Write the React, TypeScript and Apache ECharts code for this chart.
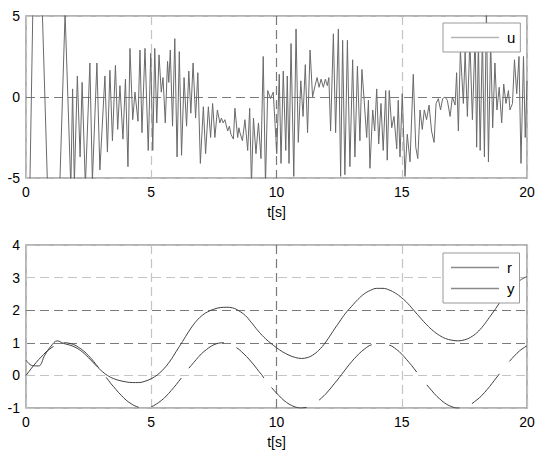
import React, { useEffect, useRef } from 'react';
import * as echarts from 'echarts';

const FONT = '"Liberation Sans", Arial, Helvetica, sans-serif';

const xTicks = [0, 5, 10, 15, 20];
const xLabel = 't[s]';

// control signal u: vertices (time, value)
const uTime = [
  0, 0.41, 1.10, 1.56, 1.79,
  1.86, 1.93, 2.05, 2.16, 2.24, 2.37, 2.55, 2.65, 2.83, 2.95,
  3.15, 3.25, 3.35, 3.45, 3.57, 3.66, 3.75, 3.87, 3.97, 4.07,
  4.15, 4.26, 4.35, 4.47, 4.55, 4.63,
  4.75, 4.88, 4.98, 5.06, 5.14, 5.22, 5.31, 5.40, 5.47, 5.56,
  5.65, 5.70, 5.76, 5.85, 5.94, 6.03, 6.12, 6.21, 6.31, 6.41,
  6.50, 6.58, 6.67, 6.77, 6.86, 6.96, 7.08, 7.17, 7.28, 7.37,
  7.45, 7.54, 7.64, 7.74, 7.80, 7.87, 7.94, 8.05, 8.12, 8.18,
  8.28, 8.34, 8.45, 8.50, 8.54, 8.64, 8.74, 8.85, 8.93, 9.00,
  9.08, 9.18, 9.28, 9.38, 9.47, 9.56, 9.65, 9.76, 9.87,
  10.01, 10.11, 10.18, 10.27, 10.37, 10.43, 10.50, 10.58, 10.69, 10.78,
  10.87, 10.97, 11.06, 11.15, 11.24, 11.34, 11.44, 11.54, 11.62, 11.70,
  11.78, 11.87, 11.95, 12.03, 12.09, 12.16, 12.27, 12.36, 12.47, 12.56,
  12.64, 12.73, 12.83, 12.93, 13.04, 13.13, 13.23, 13.33, 13.41, 13.49,
  13.60, 13.67, 13.73, 13.84, 13.92, 14.00, 14.08, 14.17, 14.26, 14.36,
  14.42, 14.50, 14.60, 14.69, 14.80,
  14.86, 14.93, 15.02, 15.13, 15.22, 15.33, 15.46, 15.56, 15.64, 15.73,
  15.82, 15.90, 15.99, 16.09, 16.19, 16.29, 16.37, 16.46, 16.55, 16.63,
  16.73, 16.82, 16.93, 17.02, 17.13, 17.19, 17.26, 17.34, 17.46, 17.53,
  17.62, 17.72, 17.82, 17.93, 17.99, 18.06, 18.13, 18.22, 18.30, 18.38,
  18.46, 18.55, 18.63, 18.72, 18.80, 18.89, 18.99, 19.07, 19.16, 19.26,
  19.32, 19.42, 19.50, 19.59, 19.68, 19.76, 19.86, 19.93, 20.0,
];
const uValue = [
  -19.5, 17.8, -18, 5.2, -5.6,
  0.5, -5.3, 1.3, -3.7, 0.9, -5.5, 2.1, -5.2, 2.1, -4.5,
  1.3, -3.4, 1.65, -2.7, 1.95, -2.0, 0.7, -2.6, 1.1, -4.3,
  3.0, -1.4, 0.3, -1.5, 2.9, -2.2,
  3.0, -3.3, 2.7, -3.3, 3.0, -1.6, 2.6, 0.3, 1.2, -1.6,
  2.2, 0.9, 2.9, -1.8, 3.6, -3.7, 2.8, -3.6, 1.2, -1.8,
  1.6, -1.0, 2.1, -1.3, 1.5, -4.1, -0.6, -3.5, -0.6, -2.5,
  -0.4, -2.5, -0.8, -1.6, -1.3, -1.6, -1.4, -2.1, -1.8, -2.3,
  -2.6, -0.7, -2.5, -1.9, -2.2, -2.7, -1.4, -3.3, -0.7, -5.4,
  -1.3, -3.5, -1.6, -3.8, 2.5, -5.4, 0.4, -0.1, 0.3,
  -3.5, 1.4, -4.1, 1.6, -3.3, 1.3, -4.1, 3.3, -4.9, 4.2,
  -2.8, 1.0, -1.2, 2.0, -2.2, 2.9, 0.0, 0.7, 1.2, 0.6,
  1.1, 0.6, 1.1, 0.7, 1.2, -2.1, 3.9, -2.2, 4.2, -4.9,
  3.5, -4.8, 3.5, -4.3, 2.3, -3.7, 1.9, -2.7, 1.7, 0.0,
  -2.5, -0.2, -4.4, -0.8, -2.1, 0.5, -2.9, -0.4, -3.3, 0.4,
  -3.9, 0.4, -1.9, -1.2, -3.2,
  -0.2, -3.7, 0.2, -4.9, -2.3, -4.0, 1.4, -3.1, -3.8, -0.8,
  -2.0, -0.8, -1.4, -0.5, -2.1, -2.8, -0.4, -0.1, -0.8, -0.1,
  0.0, -0.2, -1.2, 0.0, -0.5, 1.5, -2.1, 2.9, -0.4, 2.8,
  -1.2, 3.5, -1.4, 3.8, -3.1, 3.5, -3.3, 3.8, -3.7, 5.5,
  -4.0, 3.5, -1.9, 2.1, -0.8, 0.6, -1.6, 0.8, -0.4, 0.4,
  -0.8, -0.4, 2.3, 0.2, 2.5, -4.1, 2.5, -2.5, 1.0,
];

// reference r, sampled every 0.1 s (null where the drawn line is broken)
const R_STEP = 0.1;
const rValue = [
  0.00, 0.10, 0.20, 0.30, 0.39, 0.48, 0.56, 0.64, 0.72, 0.78,
  0.84, 0.89, null, null, null, 1.00, 1.00, 0.99, 0.97, 0.95,
  0.91, 0.86, 0.81, 0.75, 0.68, 0.60, 0.52, 0.43, 0.33, 0.24,
  null, null, -0.06, -0.16, -0.26, -0.35, -0.44, -0.53, -0.61, -0.69,
  -0.76, -0.82, -0.87, -0.92, -0.95, -0.98, null, null, null, null,
  -0.96, -0.93, -0.88, -0.83, -0.77, -0.71, -0.63, -0.55, -0.46, -0.37,
  -0.28, -0.18, -0.08, null, null, 0.22, 0.31, 0.40, 0.49, 0.58,
  0.66, 0.73, 0.79, 0.85, 0.90, 0.94, 0.97, 0.99, 1.00, 1.00,
  null, null, null, null, 0.85, 0.80, 0.73, 0.66, 0.58, 0.50,
  0.41, 0.32, 0.22, 0.12, 0.03, -0.08, null, null, -0.37, -0.46,
  -0.54, -0.62, -0.70, -0.77, -0.83, -0.88, -0.92, -0.96, -0.98, -1.00,
  -1.00, -0.99, -0.98, null, null, null, null, -0.76, -0.69, -0.62,
  -0.54, -0.45, -0.36, -0.26, -0.17, -0.07, 0.03, 0.13, 0.23, 0.33,
  0.42, 0.51, 0.59, 0.67, 0.74, 0.80, 0.86, 0.91, 0.94, null,
  null, null, null, null, null, 0.93, 0.90, 0.85, 0.79, 0.73,
  0.65, 0.57, 0.48, 0.39, 0.30, 0.20, 0.10, null, null, null,
  -0.29, -0.38, -0.47, -0.56, -0.64, -0.71, -0.78, -0.84, -0.89, -0.93,
  -0.96, -0.99, -1.00, -1.00, null, null, null, null, -0.87, -0.81,
  -0.75, -0.69, -0.61, -0.53, -0.44, -0.35, -0.25, -0.15, -0.05, 0.05,
  null, null, null, 0.43, 0.52, 0.60, 0.68, 0.75, 0.81, 0.86,
  0.91,
];

// output y, sampled every 0.25 s
const Y_STEP = 0.25;
const yValue = [
  0.47, 0.30, 0.29, 0.62, 0.90, 1.06, 0.98, 0.93, 0.85, 0.72,
  0.54, 0.34, 0.15, 0.00, -0.10, -0.16, -0.20, -0.22, -0.22, -0.18,
  -0.10, 0.02, 0.20, 0.44, 0.74, 1.04, 1.35, 1.62, 1.82, 1.95,
  2.03, 2.08, 2.09, 2.07, 1.98, 1.84, 1.62, 1.38, 1.17, 1.00,
  0.85, 0.72, 0.62, 0.55, 0.52, 0.55, 0.65, 0.82, 1.06, 1.35,
  1.63, 1.90, 2.12, 2.33, 2.50, 2.61, 2.67, 2.67, 2.62, 2.52,
  2.38, 2.20, 1.98, 1.76, 1.55, 1.37, 1.23, 1.13, 1.08, 1.06,
  1.09, 1.17, 1.31, 1.52, 1.78, 2.05, 2.33, 2.55, 2.74, 2.93,
  3.03,
];

const LIGHT = '#c4c4c4';
const DARK = '#7a7a7a';

export default function App() {
  const ref = useRef<HTMLDivElement>(null);

  useEffect(() => {
    if (!ref.current) return;
    const chart = echarts.init(ref.current, null, { renderer: 'svg' });

    const uData = uTime.map((t, i) => [t, uValue[i]]);
    const rData = rValue.map((v, i) => [Number((i * R_STEP).toFixed(2)), v === null ? '-' : v]);
    const yData = yValue.map((v, i) => [Number((i * Y_STEP).toFixed(2)), v]);

    const labelStyle = { color: '#000', fontSize: 14, fontFamily: FONT };

    const xAxisBase = (gridIndex: number) => ({
      type: 'value',
      gridIndex,
      min: xTicks[0],
      max: xTicks[xTicks.length - 1],
      interval: 5,
      axisLine: { show: false },
      axisTick: { show: false },
      axisLabel: { ...labelStyle, margin: 7 },
      name: xLabel,
      nameLocation: 'middle',
      nameGap: 27,
      nameTextStyle: { ...labelStyle },
      splitLine: {
        show: true,
        lineStyle: { type: [9, 5], width: 1.2, color: [LIGHT, LIGHT, DARK, LIGHT, LIGHT] },
      },
    });

    const legendBase = {
      left: 443, orient: 'vertical',
      padding: [6, 5, 6, 8],
      icon: 'rect',
      itemWidth: 48, itemHeight: 1.5,
      backgroundColor: '#fff', borderColor: '#999', borderWidth: 1,
      textStyle: { ...labelStyle, fontSize: 15, lineHeight: 17, padding: [0, 0, 0, 3] },
      selectedMode: false,
    };

    const option: any = {
      animation: false,
      backgroundColor: '#fff',
      textStyle: { fontFamily: FONT },
      grid: [
        { left: 26, top: 16, width: 501, height: 162, show: true, borderColor: '#9a9a9a', borderWidth: 1.5, backgroundColor: 'transparent' },
        { left: 26, top: 245, width: 501, height: 163, show: true, borderColor: '#9a9a9a', borderWidth: 1.5, backgroundColor: 'transparent' },
      ],
      xAxis: [xAxisBase(0), xAxisBase(1)],
      yAxis: [
        {
          type: 'value', gridIndex: 0, min: -5, max: 5, interval: 5,
          axisLine: { show: false }, axisTick: { show: false },
          axisLabel: { ...labelStyle, margin: 6 },
          splitLine: { show: true, lineStyle: { type: [9, 5], width: 1.2, color: [LIGHT, DARK, LIGHT] } },
        },
        {
          type: 'value', gridIndex: 1, min: -1, max: 4, interval: 1,
          axisLine: { show: false }, axisTick: { show: false },
          axisLabel: { ...labelStyle, margin: 6 },
          splitLine: { show: true, lineStyle: { type: [9, 5], width: 1.2, color: [LIGHT, LIGHT, DARK, DARK, LIGHT, LIGHT] } },
        },
      ],
      legend: [
        {
          ...legendBase,
          data: ['u'],
          top: 23,
          itemStyle: { color: '#b4b4b4', borderWidth: 0 },
        },
        {
          ...legendBase,
          data: ['r', 'y'],
          top: 253,
          itemGap: 4,
          itemStyle: { color: '#8a8a8a', borderWidth: 0 },
        },
      ],
      series: [
        {
          name: 'u', type: 'line', xAxisIndex: 0, yAxisIndex: 0,
          data: uData, symbol: 'none', showSymbol: false, clip: true,
          lineStyle: { color: '#6a6a6a', width: 1 },
          emphasis: { disabled: true },
        },
        {
          name: 'r', type: 'line', xAxisIndex: 1, yAxisIndex: 1,
          data: rData, symbol: 'none', showSymbol: false, clip: true, connectNulls: false,
          lineStyle: { color: '#404040', width: 1 },
          emphasis: { disabled: true },
        },
        {
          name: 'y', type: 'line', xAxisIndex: 1, yAxisIndex: 1,
          data: yData, symbol: 'none', showSymbol: false, clip: true, smooth: 0.4,
          lineStyle: { color: '#404040', width: 1 },
          emphasis: { disabled: true },
        },
      ],
    };

    chart.setOption(option);
    return () => chart.dispose();
  }, []);

  return (
    <div
      ref={ref}
      style={{ position: 'fixed', left: 0, top: 0, width: 550, height: 465, background: '#fff' }}
    />
  );
}
